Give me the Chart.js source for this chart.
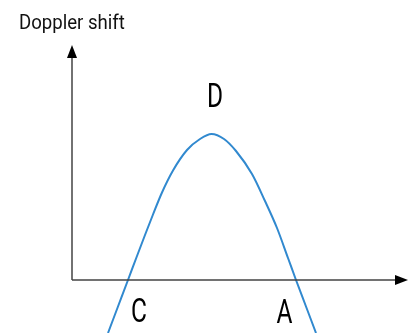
<!DOCTYPE html>
<html>
<head>
<meta charset="utf-8">
<script src="https://cdn.jsdelivr.net/npm/chart.js@4"></script>
<style>
  html, body { margin: 0; padding: 0; background: #fff; }
  #chart { display: block; }
</style>
</head>
<body>
<canvas id="chart" width="409" height="333"></canvas>
<script>
// curve, origin at the axes crossing
const curveX = [36, 46, 56, 65, 73, 81, 90, 101, 115, 128, 139.5, 152, 164, 180, 193, 205, 216, 224, 234, 244];
const curveY = [-53, -26.5, 0, 24, 45, 65.5, 87.5, 109.5, 130, 141, 146, 141, 129, 106, 79, 52, 22, 0, -26.5, -53];

const axisTitle = 'Doppler shift';
const pointNames = ['D', 'C', 'A'];
const pointAtX = [143, 67, 212.5];
const pointAtY = [173, -42, -42.5];

const axesPlugin = {
  id: 'arrowAxes',
  afterDatasetsDraw(chart) {
    const ctx = chart.ctx;
    const xs = chart.scales.x, ys = chart.scales.y;
    const ox = xs.getPixelForValue(0), oy = ys.getPixelForValue(0);
    const top = ys.getPixelForValue(235);
    const right = xs.getPixelForValue(336);

    ctx.save();
    ctx.strokeStyle = '#444';
    ctx.fillStyle = '#000';
    ctx.lineWidth = 1.5;
    ctx.beginPath();
    ctx.moveTo(ox, oy);
    ctx.lineTo(ox, top + 10);
    ctx.moveTo(ox, oy);
    ctx.lineTo(right - 10, oy);
    ctx.stroke();

    // arrow heads
    ctx.beginPath();
    ctx.moveTo(ox, top);
    ctx.lineTo(ox - 5, top + 13);
    ctx.lineTo(ox + 5, top + 13);
    ctx.closePath();
    ctx.fill();
    ctx.beginPath();
    ctx.moveTo(right, oy);
    ctx.lineTo(right - 13, oy - 5);
    ctx.lineTo(right - 13, oy + 5);
    ctx.closePath();
    ctx.fill();

    // axis title
    ctx.save();
    ctx.translate(19, 28.5);
    ctx.scale(0.93, 1);
    ctx.font = '20px Roboto';
    ctx.fillStyle = '#111';
    ctx.textBaseline = 'alphabetic';
    ctx.textAlign = 'left';
    ctx.fillText(axisTitle, 0, 0);
    ctx.restore();

    // point letters
    pointNames.forEach((name, i) => {
      const px = xs.getPixelForValue(pointAtX[i]);
      const py = ys.getPixelForValue(pointAtY[i]);
      ctx.save();
      ctx.translate(px, py);
      ctx.scale(0.72, 1);
      ctx.font = '34px Roboto';
      ctx.textAlign = 'center';
      ctx.textBaseline = 'alphabetic';
      ctx.fillText(name, 0, 0);
      ctx.restore();
    });
    ctx.restore();
  }
};

new Chart(document.getElementById('chart'), {
  type: 'line',
  data: {
    datasets: [{
      data: curveX.map((x, i) => ({ x: x, y: curveY[i] })),
      borderColor: '#3189cf',
      borderWidth: 2,
      pointRadius: 0,
      fill: false,
      cubicInterpolationMode: 'monotone'
    }]
  },
  options: {
    responsive: false,
    animation: false,
    layout: { padding: 0 },
    plugins: { legend: { display: false }, tooltip: { enabled: false } },
    scales: {
      x: { type: 'linear', display: false, min: -72, max: 337 },
      y: { type: 'linear', display: false, min: -53, max: 280 }
    }
  },
  plugins: [axesPlugin]
});
</script>
</body>
</html>
